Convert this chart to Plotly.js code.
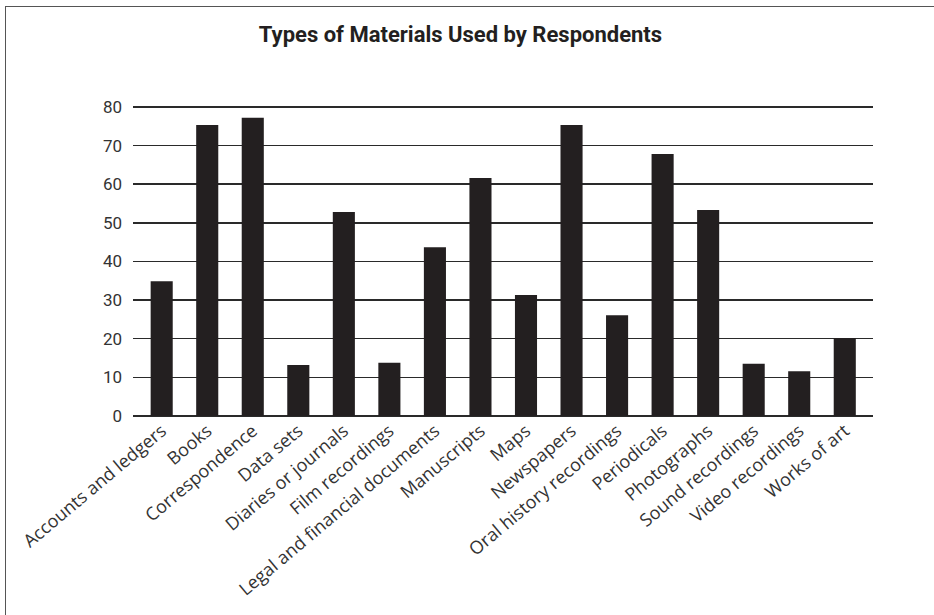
<!DOCTYPE html>
<html>
<head>
<meta charset="utf-8">
<script src="https://cdn.plot.ly/plotly-3.0.1.min.js"></script>
<style>
  html, body { margin: 0; padding: 0; overflow: hidden; background: #fff; }
  #wrap { position: relative; width: 934px; height: 615px; }
  #chart { position: absolute; left: 0; top: 0; width: 934px; height: 615px; }
  #frame { position: absolute; left: 5px; top: 6px; width: 960px; height: 640px;
           border-top: 1.4px solid #555; border-left: 1.4px solid #555; pointer-events: none; }
</style>
</head>
<body>
<div id="wrap">
  <div id="chart"></div>
  <div id="frame"></div>
</div>
<script>
const categories = [
  "Accounts and ledgers", "Books", "Correspondence", "Data sets",
  "Diaries or journals", "Film recordings", "Legal and financial documents",
  "Manuscripts", "Maps", "Newspapers", "Oral history recordings",
  "Periodicals", "Photographs", "Sound recordings", "Video recordings", "Works of art"
];
const values = [34.9, 75.3, 77.2, 13.2, 52.8, 13.8, 43.7, 61.6, 31.3, 75.3, 26.1, 67.8, 53.3, 13.5, 11.6, 20.2];
const yTicks = [0, 10, 20, 30, 40, 50, 60, 70, 80];
const chartTitle = "Types of Materials Used by Respondents";

const ink = "#231f20";
const trace = {
  type: "bar",
  x: categories,
  y: values,
  marker: { color: ink, line: { width: 0 } },
  hoverinfo: "x+y"
};

const layout = {
  width: 934,
  height: 615,
  margin: { l: 133, r: 61, t: 105, b: 199, pad: 0 },
  paper_bgcolor: "#fff",
  plot_bgcolor: "#fff",
  bargap: 0.515,
  showlegend: false,
  font: { family: "Roboto, 'DejaVu Sans', sans-serif", color: "#333" },
  title: {
    text: "<b>" + chartTitle + "</b>",
    font: { family: "Roboto, sans-serif", size: 22, color: ink },
    xref: "container", x: 0.493, xanchor: "center",
    yref: "container", y: 0.945, yanchor: "middle"
  },
  xaxis: {
    type: "category",
    range: [-0.63, 15.62],
    showgrid: false,
    zeroline: false,
    showline: false,
    ticks: "",
    tickangle: -40,
    tickfont: { family: "'Open Sans', sans-serif", size: 18, color: "#333" },
    fixedrange: true
  },
  yaxis: {
    range: [0, 80.5],
    tickvals: yTicks,
    ticktext: yTicks.map(String),
    showgrid: true,
    gridcolor: "#2a2a2a",
    gridwidth: 1.5,
    zeroline: true,
    zerolinecolor: "#2a2a2a",
    zerolinewidth: 1.5,
    showline: false,
    ticks: "",
    ticklabelstandoff: 10,
    tickfont: { size: 17, color: "#333" },
    fixedrange: true
  }
};

Plotly.newPlot("chart", [trace], layout, { displayModeBar: false, staticPlot: true });
</script>
</body>
</html>
